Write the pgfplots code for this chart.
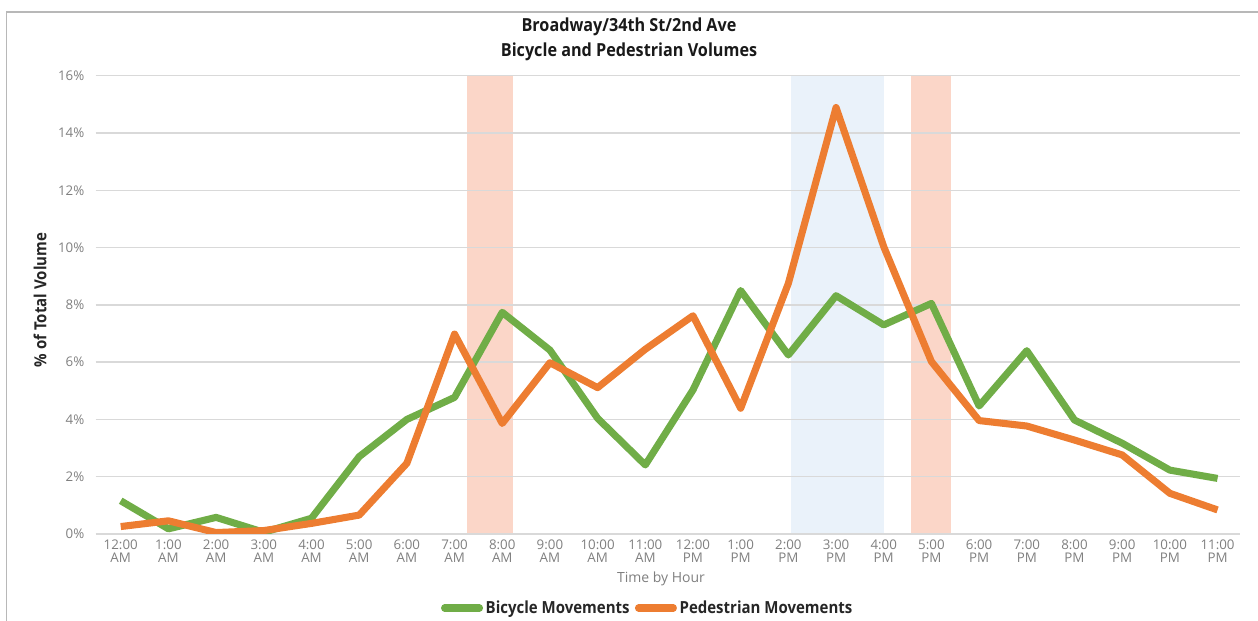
\documentclass[border=0pt]{standalone}
\usepackage{fontspec}
\setmainfont{Open Sans}
\newfontfamily\condb[FakeStretch=0.9]{Open Sans}
\usepackage{pgfplots}
\usepackage{pgfplotstable}
\pgfplotsset{compat=1.18}
\definecolor{bikegreen}{HTML}{70AD47}
\definecolor{pedorange}{HTML}{ED7D31}
\definecolor{bandO}{HTML}{FBD6C8}
\definecolor{bandB}{HTML}{EAF2FA}
\definecolor{gridg}{HTML}{D9D9D9}
\definecolor{tickg}{HTML}{7F7F7F}

\pgfplotstableread{
h bike ped
0 1.16 0.26
1 0.18 0.46
2 0.58 0.05
3 0.06 0.12
4 0.55 0.37
5 2.70 0.66
6 4.00 2.47
7 4.77 6.98
8 7.74 3.86
9 6.42 5.98
10 4.04 5.11
11 2.41 6.45
12 5.03 7.62
13 8.50 4.39
14 6.25 8.75
15 8.32 14.89
16 7.30 10.03
17 8.05 6.02
18 4.47 3.96
19 6.40 3.77
20 3.98 3.28
21 3.17 2.76
22 2.23 1.42
23 1.94 0.84
}\datatable

\begin{document}
\begin{tikzpicture}
\begin{axis}[
  name=ax, at={(0,0)}, anchor=south west,
  set layers,
  scale only axis, width=858.2pt, height=343.7pt,
  xmin=-0.525, xmax=23.47, ymin=0, ymax=16,
  ytick={0,2,...,16},
  xtick={0,...,23},
  xticklabels={{12:00\\AM},{1:00\\AM},{2:00\\AM},{3:00\\AM},{4:00\\AM},{5:00\\AM},{6:00\\AM},{7:00\\AM},{8:00\\AM},{9:00\\AM},{10:00\\AM},{11:00\\AM},{12:00\\PM},{1:00\\PM},{2:00\\PM},{3:00\\PM},{4:00\\PM},{5:00\\PM},{6:00\\PM},{7:00\\PM},{8:00\\PM},{9:00\\PM},{10:00\\PM},{11:00\\PM}},
  xticklabel style={align=center, font=\fontsize{10}{9.25}\selectfont, text=tickg, yshift=-1pt},
  /pgf/number format/assume math mode=true,
  yticklabel={\pgfmathprintnumber{\tick}\%},
  yticklabel style={font=\fontsize{10}{12}\selectfont, text=tickg, xshift=-5pt},
  axis line style={draw=none},
  major tick length=0pt,
  ymajorgrids,
  grid style={gridg, line width=1.1pt},
  legend columns=2,
  legend style={draw=none, fill=none, at={(0.4827,-0.1615)}, anchor=center,
    font=\condb\bfseries\fontsize{12.5}{14}\selectfont, text=black!85,
    /tikz/every even column/.append style={column sep=2pt}},
  legend image code/.code={\draw[#1, line width=5.5pt, line cap=round] (0pt,0pt) -- (26pt,0pt);},
]
\addplot[fill=bandO, draw=none, forget plot, on layer=axis background] coordinates {(7.27,16) (8.22,16)} \closedcycle;
\addplot[fill=bandB, draw=none, forget plot, on layer=axis background] coordinates {(14.05,16) (16.0,16)} \closedcycle;
\addplot[fill=bandO, draw=none, forget plot, on layer=axis background] coordinates {(16.58,16) (17.42,16)} \closedcycle;
\addplot[bikegreen, line width=5.3pt, line join=round] table[x=h, y=bike] {\datatable};
\addlegendentry{Bicycle Movements}
\addplot[pedorange, line width=5.3pt, line join=round] table[x=h, y=ped] {\datatable};
\addlegendentry{Pedestrian Movements}
\end{axis}
\begin{scope}[shift={(ax.south west)}, x=0.75pt, y=-0.75pt, shift={(-95.7,-534)}]
 \draw[draw=black!28, line width=1.1pt] (6.5,621) -- (6.5,12) -- (1258,12);
 \node[font=\condb\bfseries\fontsize{13.5}{18.75}\selectfont, align=center, text=black!90] at (629,39.5) {Broadway/34th St/2nd Ave\\Bicycle and Pedestrian Volumes};
 \node[rotate=90, font=\condb\bfseries\fontsize{12.5}{14}\selectfont, text=black!85] at (40,300) {\% of Total Volume};
 \node[font=\fontsize{10.5}{12}\selectfont, text=tickg] at (661,579) {Time by Hour};
 \pgfresetboundingbox
 \path[use as bounding box] (0,0) rectangle (1258,621);
\end{scope}
\end{tikzpicture}
\end{document}
